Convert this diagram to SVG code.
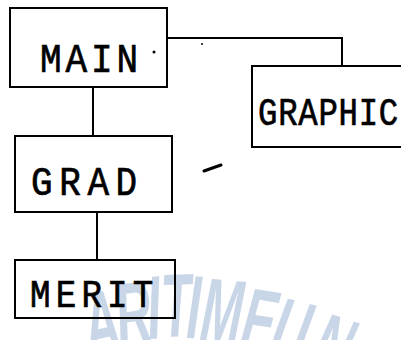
<svg xmlns="http://www.w3.org/2000/svg" width="401" height="340" viewBox="0 0 401 340">
  <style>
    .box { fill: none; stroke: #000; stroke-width: 2; stroke-linejoin: miter; }
    .wire { fill: none; stroke: #000; stroke-width: 2; }
    .lbl { font-family: "Liberation Mono", "DejaVu Sans Mono", monospace; fill: #000; stroke: #000; stroke-width: 0.7; }
    .wm { font-family: "Liberation Sans", Arial, sans-serif; font-weight: bold; font-style: italic; font-size: 90px; fill: #c9d6e8; }
  </style>
  <rect width="401" height="340" fill="#fff"/>

  <!-- faint background stamp, letters laid along an arc -->
  <g class="wm">
    <text transform="translate(90,357) rotate(-12) scale(0.55,1)">A</text>
    <text transform="translate(120,347) rotate(-8) scale(0.55,1)">R</text>
    <text transform="translate(149,339) rotate(-4) scale(0.55,1)">I</text>
    <text transform="translate(162,337) rotate(-2) scale(0.55,1)">T</text>
    <text transform="translate(186,338) rotate(2) scale(0.55,1)">I</text>
    <text transform="translate(199,340) rotate(5) scale(0.55,1)">M</text>
    <text transform="translate(238,349) rotate(9) scale(0.55,1)">E</text>
    <text transform="translate(266,357) rotate(14) scale(0.55,1)">U</text>
    <text transform="translate(306,371) rotate(18) scale(0.55,1)">N</text>
  </g>

  <g id="connectors">
    <path class="wire" d="M167,38 H342 V66"/>
    <path class="wire" d="M93,87 V136"/>
    <path class="wire" d="M97,212 V260"/>
  </g>

  <g id="main">
    <rect class="box" x="10" y="8" width="157" height="79"/>
    <text class="lbl" font-size="40" transform="translate(40,72) scale(0.9,1)" textLength="109" lengthAdjust="spacing">MAIN</text>
    <circle cx="154" cy="52" r="1.5" fill="#000"/>
  </g>

  <g id="graphic">
    <path class="box" d="M401,66 H252 V147 H401"/>
    <text class="lbl" font-size="38" transform="translate(258,125) scale(0.85,1)" textLength="165" lengthAdjust="spacing">GRAPHIC</text>
  </g>

  <g id="grad">
    <rect class="box" x="15" y="136" width="157" height="76"/>
    <text class="lbl" font-size="40" transform="translate(31,195) scale(0.9,1)" textLength="118" lengthAdjust="spacing">GRAD</text>
  </g>

  <g id="merit">
    <rect class="box" x="15" y="260" width="160" height="58"/>
    <text class="lbl" font-size="38" transform="translate(30,307) scale(0.9,1)" textLength="137" lengthAdjust="spacing">MERIT</text>
  </g>

  <!-- stray pen marks -->
  <path d="M204,171 L221,165" stroke="#000" stroke-width="3" stroke-linecap="round"/>
  <circle cx="202" cy="44" r="1" fill="#000"/>
</svg>
